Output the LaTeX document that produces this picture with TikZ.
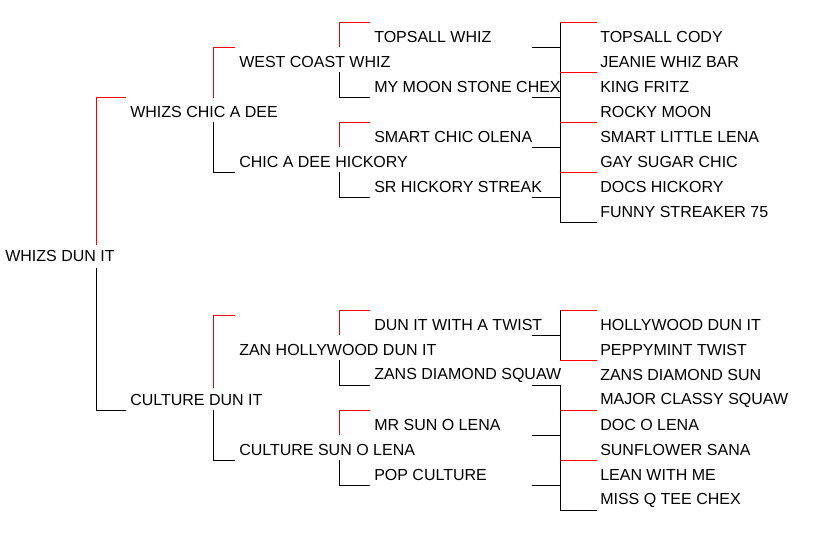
\documentclass[tikz,border=0pt]{standalone}
\usepackage{fontspec}
\setmainfont{Liberation Sans}
\begin{document}
\begin{tikzpicture}[x=0.75pt,y=-0.75pt,
  nm/.style={anchor=west,inner sep=0pt,font=\fontsize{12}{14}\selectfont},
  rl/.style={draw=red,line width=0.75pt},
  bl/.style={draw=black,line width=0.75pt}]
\useasboundingbox[fill=white] (0,0) rectangle (821,533);
% names
\node[nm] (r) at (5,256) {WHIZS DUN IT};
\node[nm] (s) at (130,112) {WHIZS CHIC A DEE};
\node[nm] (d) at (130,400) {CULTURE DUN IT};
\node[nm] at (239,62) {WEST COAST WHIZ};
\node[nm] at (239,162) {CHIC A DEE HICKORY};
\node[nm] at (239,350) {ZAN HOLLYWOOD DUN IT};
\node[nm] at (239,450) {CULTURE SUN O LENA};
\foreach \t/\y in {TOPSALL WHIZ/37, MY MOON STONE CHEX/87, SMART CHIC OLENA/137, SR HICKORY STREAK/187, DUN IT WITH A TWIST/325, ZANS DIAMOND SQUAW/375, MR SUN O LENA/425, POP CULTURE/475}
  \node[nm] at (374,\y) {\t};
\foreach \t/\y in {TOPSALL CODY/37, JEANIE WHIZ BAR/62, KING FRITZ/87, ROCKY MOON/112, SMART LITTLE LENA/137, GAY SUGAR CHIC/162, DOCS HICKORY/187, FUNNY STREAKER 75/212, HOLLYWOOD DUN IT/325, PEPPYMINT TWIST/350, ZANS DIAMOND SUN/375, MAJOR CLASSY SQUAW/400, DOC O LENA/425, SUNFLOWER SANA/450, LEAN WITH ME/475, MISS Q TEE CHEX/500}
  \node[nm] at (600,\y) {\t};
% generation 1
\draw[rl] (126,97) -- (96,97) -- (96,245);
\draw[bl] (96,268) -- (96,410) -- (126,410);
% generation 2
\draw[rl] (235,47) -- (213,47) -- (213,98);
\draw[bl] (213,122) -- (213,172) -- (235,172);
\draw[rl] (235,315) -- (213,315) -- (213,388);
\draw[bl] (213,410) -- (213,460) -- (235,460);
% generation 3
\foreach \y in {22,122,310,410}{
  \draw[rl] (370,\y) -- (339,\y) -- (339,\y+25);
  \draw[bl] (339,\y+50) -- (339,\y+75) -- (370,\y+75);}
% generation 4
\foreach \y in {47,97,147,197,335,385,435,485}
  \draw[bl] (532,\y) -- (560,\y);
\draw[bl] (560,22) -- (560,222) -- (597,222);
\foreach \y in {22,72,122,172,310,360,410,460}
  \draw[rl] (560,\y) -- (597,\y);
\draw[bl] (560,310) -- (560,360);
\draw[bl] (560,385) -- (560,510) -- (597,510);
\end{tikzpicture}
\end{document}
